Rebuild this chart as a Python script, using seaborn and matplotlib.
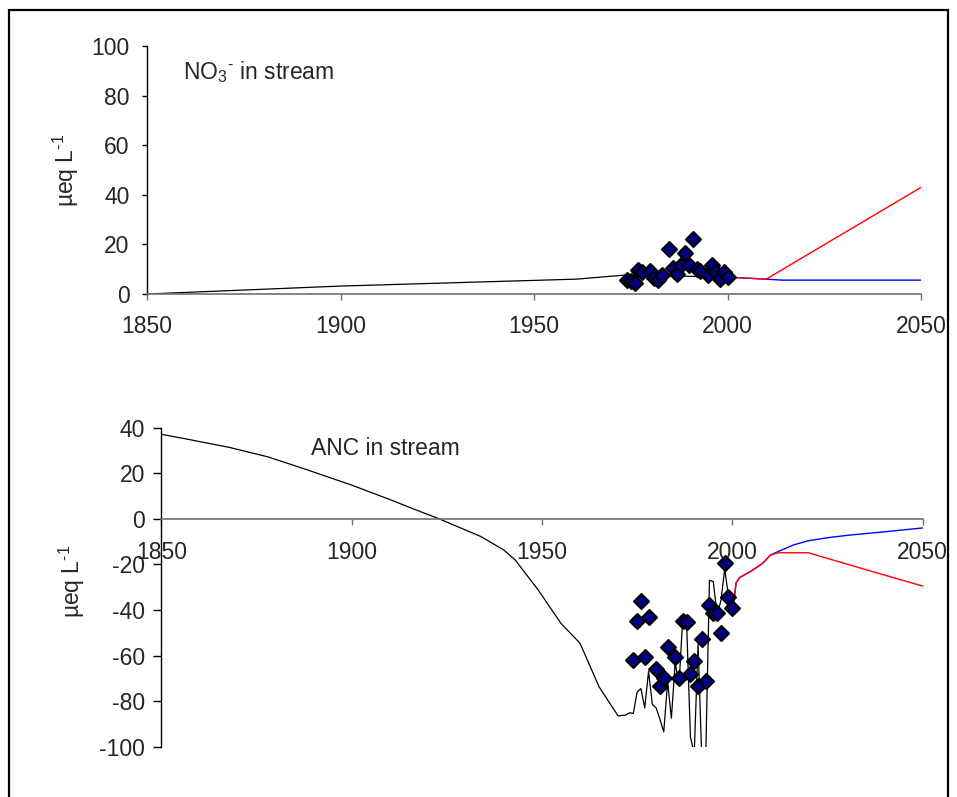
import matplotlib
matplotlib.use("Agg")
import matplotlib.pyplot as plt
from matplotlib.patches import Rectangle
import seaborn as sns

# ---------------- data ----------------
# NO3- in stream (top panel)
no3_sim_years = [1850, 1900, 1961, 1974, 2000]
no3_sim_vals = [0.0, 3.2, 6.0, 7.7, 6.8]
no3_red_years = [2000, 2010, 2050]
no3_red_vals = [6.8, 6.0, 43.0]
no3_blue_years = [2000, 2010, 2014, 2050]
no3_blue_vals = [6.8, 6.0, 5.6, 5.6]
no3_obs_years = [1974, 1975, 1976, 1977, 1978, 1980, 1981, 1982, 1983, 1985, 1986, 1987,
                 1988, 1989, 1990, 1991, 1992, 1993, 1995, 1996, 1997, 1998, 1999, 2000]
no3_obs_vals = [5.6, 5.2, 4.4, 9.7, 8.9, 9.3, 6.5, 5.6, 7.7, 18.1, 10.5, 8.1,
                11.7, 16.5, 11.7, 22.2, 10.1, 9.3, 7.7, 11.7, 8.9, 6.0, 8.9, 6.9]

# ANC in stream (bottom panel)
anc_sim_years = [1850, 1857, 1868, 1878, 1888, 1900, 1910, 1916, 1923, 1934, 1940, 1943, 1949,
                 1955, 1960, 1965, 1970, 1972, 1973, 1974, 1975, 1976, 1977, 1978, 1979,
                 1980, 1981, 1982, 1983, 1984, 1985, 1986, 1987, 1988, 1989, 1990, 1991,
                 1992, 1993, 1994, 1995, 1996, 1997, 1998, 1999, 2000]
anc_sim_vals = [37.1, 34.9, 31.3, 27.2, 21.7, 14.8, 8.5, 4.5, 0.0, -7.8, -13.7, -18.1, -31.2,
                -45.9, -54.6, -73.7, -86.5, -86.1, -85.1, -85.4, -76.0, -74.5, -83.0, -67.0, -81.5,
                -83.0, -88.0, -93.5, -71.5, -87.5, -63.0, -73.0, -43.0, -46.0, -95.6, -103.0, -55.0,
                -106.0, -106.0, -27.0, -27.5, -42.0, -36.0, -22.0, -34.0, -42.0]
anc_red_years = [2000, 2001, 2002, 2005, 2008, 2010, 2012, 2020, 2022, 2031, 2040, 2050]
anc_red_vals = [-42.0, -28.0, -25.7, -22.9, -19.5, -15.9, -14.9, -14.9, -15.9, -20.3, -24.7, -29.5]
anc_blue_years = [2000, 2001, 2002, 2005, 2008, 2010, 2012, 2016, 2020, 2025, 2031, 2040, 2050]
anc_blue_vals = [-42.0, -28.0, -25.7, -22.9, -19.5, -15.9, -14.4, -11.5, -9.6, -8.3, -7.1, -5.7, -4.0]
anc_obs_years = [1974, 1975, 1976, 1977, 1978, 1980, 1981, 1982, 1983, 1985, 1986, 1987,
                 1988, 1989, 1990, 1991, 1992, 1993, 1994, 1995, 1996, 1997, 1998, 1999, 2000]
anc_obs_vals = [-62.0, -44.8, -35.9, -60.5, -43.0, -66.0, -73.4, -70.0, -56.1, -60.5, -69.7, -44.8,
                -45.1, -68.1, -62.4, -73.4, -52.9, -71.2, -37.8, -41.5, -41.5, -50.2, -19.3, -34.2, -39.0]

x_ticks = [1850, 1900, 1950, 2000, 2050]
no3_yticks = [0, 20, 40, 60, 80, 100]
anc_yticks = [-100, -80, -60, -40, -20, 0, 20, 40]

# ---------------- style ----------------
sns.set_style("white")
plt.rcParams["font.family"] = ["Liberation Sans", "DejaVu Sans"]
plt.rcParams["mathtext.fontset"] = "custom"
plt.rcParams["mathtext.rm"] = "Liberation Sans"
plt.rcParams["mathtext.it"] = "Liberation Sans:italic"
plt.rcParams["mathtext.default"] = "regular"
plt.rcParams["axes.unicode_minus"] = False

FS = 16.5
GRAY = "#707070"
NAVY = "#000080"

fig = plt.figure(figsize=(9.57, 7.97), dpi=100)
ax1 = fig.add_axes([0.1536, 0.6311, 0.8088, 0.3112])
ax2 = fig.add_axes([0.1685, 0.0631, 0.7956, 0.4003])


def draw(ax, sim_y, sim_v, blue_y, blue_v, red_y, red_v, obs_y, obs_v):
    sns.lineplot(x=sim_y, y=sim_v, ax=ax, color="black", lw=0.9, estimator=None, sort=False)
    sns.lineplot(x=blue_y, y=blue_v, ax=ax, color="#0000ff", lw=1.0, estimator=None, sort=False)
    sns.lineplot(x=red_y, y=red_v, ax=ax, color="#ff0000", lw=1.0, estimator=None, sort=False)
    sns.scatterplot(x=obs_y, y=obs_v, ax=ax, marker="D", s=58, color=NAVY,
                    edgecolor="black", linewidth=1.5, zorder=4)


draw(ax1, no3_sim_years, no3_sim_vals, no3_blue_years, no3_blue_vals,
     no3_red_years, no3_red_vals, no3_obs_years, no3_obs_vals)
draw(ax2, anc_sim_years, anc_sim_vals, anc_blue_years, anc_blue_vals,
     anc_red_years, anc_red_vals, anc_obs_years, anc_obs_vals)

for ax in (ax1, ax2):
    ax.set_xlim(1850, 2050)
    ax.set_xticks(x_ticks)
    for s in ("top", "right"):
        ax.spines[s].set_visible(False)
    ax.spines["left"].set_color("black")
    ax.spines["left"].set_linewidth(1.0)
    ax.spines["bottom"].set_color(GRAY)
    ax.spines["bottom"].set_linewidth(1.2)
    ax.set_xlabel("")
    ax.patch.set_alpha(0)

ax1.set_ylim(0, 100)
ax1.set_yticks(no3_yticks)
ax2.set_ylim(-100, 40)
ax2.set_yticks(anc_yticks)
ax2.spines["bottom"].set_position(("data", 0))

ax1.tick_params(axis="y", direction="out", length=3.6, width=1.0, color="black",
                labelsize=FS, pad=9, left=True)
ax1.tick_params(axis="x", direction="out", length=4.3, width=1.0, color=GRAY,
                labelsize=FS, pad=11, bottom=True)
ax2.tick_params(axis="y", direction="out", length=5.8, width=1.0, color="black",
                labelsize=FS, pad=6, left=True)
ax2.tick_params(axis="x", direction="out", length=4.3, width=1.0, color=GRAY,
                labelsize=FS, pad=12, bottom=True)

ylab = "µeq L$^{\\text{-1}}$"
ax1.set_ylabel(ylab, fontsize=FS)
ax1.yaxis.set_label_coords(-0.085, 0.5)
ax2.set_ylabel(ylab, fontsize=FS)
ax2.yaxis.set_label_coords(-0.097, 0.52)

ax1.text(0.047, 0.895, "NO$_3$$^{\\text{-}}$ in stream", transform=ax1.transAxes,
         fontsize=FS, ha="left", va="center")
ax2.text(0.197, 0.936, "ANC in stream", transform=ax2.transAxes,
         fontsize=FS, ha="left", va="center")

# outer frame
fig.patches.append(Rectangle((8.7 / 957, -0.05), (948 - 8.7) / 957, 1.05 - 10.3 / 797,
                             transform=fig.transFigure, fill=False, edgecolor="black",
                             linewidth=1.6, clip_on=False))

fig.savefig("out.png", dpi=100)
